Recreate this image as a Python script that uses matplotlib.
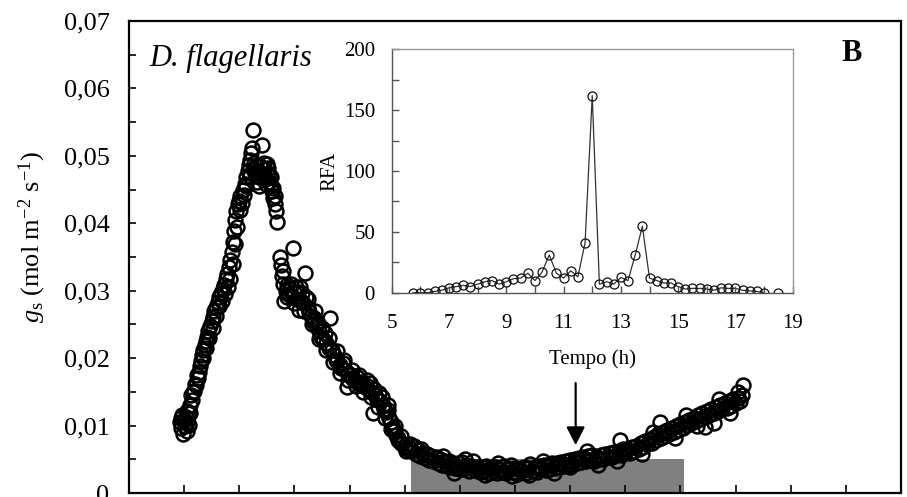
import numpy as np
import matplotlib
matplotlib.use("Agg")
import matplotlib.pyplot as plt
from matplotlib.ticker import MultipleLocator, FixedLocator, FuncFormatter

plt.rcParams['font.family'] = ['Liberation Serif', 'DejaVu Serif']
plt.rcParams['mathtext.fontset'] = 'custom'
plt.rcParams['mathtext.rm'] = 'Liberation Serif'
plt.rcParams['mathtext.it'] = 'Liberation Serif:italic'

# stomatal conductance, main panel (time in h, gs in mol m-2 s-1)
gs_time = [
    5.92, 5.94, 5.95, 5.97, 5.98, 6.00, 6.01, 6.03, 6.05, 6.06, 6.08, 6.09,
    6.11, 6.13, 6.15, 6.18, 6.20, 6.23, 6.25, 6.28, 6.30, 6.32, 6.34, 6.37,
    6.39, 6.41, 6.44, 6.47, 6.50, 6.52, 6.55, 6.58, 6.61, 6.64, 6.67, 6.70,
    6.73, 6.76, 6.78, 6.81, 6.84, 6.86, 6.88, 6.90, 6.92, 6.94, 6.97, 7.00,
    7.02, 7.05, 7.07, 7.10, 7.12, 7.15, 7.17, 7.19, 7.21, 7.23, 7.24,
    7.26, 7.28, 7.30, 7.32, 7.34, 7.36, 7.38, 7.41, 7.43, 7.45, 7.47, 7.50,
    7.52, 7.54, 7.56, 7.58, 7.60, 7.62, 7.64, 7.66, 7.68,
    7.74, 7.76, 7.78, 7.80, 7.82, 7.84, 7.87, 7.89, 7.92, 7.95, 7.97, 8.00,
    8.03, 8.05, 8.08, 8.10, 8.13, 8.16, 8.19, 8.21, 8.24, 8.27, 8.30, 8.33,
    8.36, 8.39, 8.42, 8.45, 8.48, 8.52, 8.55, 8.58, 8.62, 8.65, 8.68, 8.72,
    8.75, 8.78, 8.82, 8.85, 8.88, 8.92, 8.95, 8.98, 9.02, 9.05, 9.09, 9.13,
    9.17, 9.21, 9.25, 9.29, 9.33, 9.37, 9.40, 9.43, 9.46, 9.50, 9.53, 9.56,
    9.60, 9.63, 9.66, 9.69, 9.72, 9.75, 9.78, 9.81, 9.84, 9.88, 9.92, 9.96,
    10.00, 10.04, 10.08,
    10.12, 10.16, 10.20, 10.24, 10.28, 10.32, 10.36, 10.40, 10.44, 10.48,
    10.52, 10.56, 10.60, 10.64, 10.68, 10.72, 10.76, 10.80, 10.84, 10.88,
    10.92, 10.96, 11.00, 11.04, 11.08, 11.12, 11.16, 11.20, 11.24, 11.28,
    11.32, 11.36, 11.40, 11.44, 11.48, 11.52, 11.56, 11.60, 11.64, 11.68,
    11.72, 11.76, 11.80, 11.84, 11.88, 11.92, 11.96, 12.00, 12.04, 12.08,
    12.12, 12.16, 12.20, 12.24, 12.28, 12.32, 12.36, 12.40, 12.44, 12.48,
    12.52, 12.56, 12.60, 12.64, 12.68, 12.72, 12.76, 12.80, 12.84, 12.88,
    12.92, 12.96, 13.00,
    13.04, 13.08, 13.12, 13.16, 13.20, 13.24, 13.28, 13.32, 13.36, 13.40,
    13.44, 13.48, 13.52, 13.56, 13.60, 13.64, 13.68, 13.72, 13.76, 13.80,
    13.84, 13.88, 13.90, 13.92, 13.96, 14.00, 14.04, 14.08, 14.12, 14.16,
    14.20, 14.24, 14.28, 14.32, 14.36, 14.40, 14.44, 14.48, 14.52, 14.56,
    14.60, 14.63, 14.64, 14.68, 14.72, 14.76, 14.80, 14.84, 14.88, 14.92,
    14.96, 15.00, 15.04, 15.08, 15.12, 15.16, 15.20, 15.24, 15.28, 15.32,
    15.36, 15.40, 15.44, 15.45, 15.48, 15.52, 15.56, 15.60, 15.60, 15.64,
    15.68, 15.72, 15.76, 15.80, 15.84, 15.88, 15.92, 15.96, 16.00, 16.04,
    16.08, 16.12, 16.14,
    # second pass of readings, spread of the band
    6.05, 6.10, 6.16, 6.22, 6.27, 6.35, 6.40, 6.46, 6.52, 6.58, 6.63, 6.69,
    6.74, 6.79, 6.83, 6.88, 6.93, 6.96, 7.02, 7.08, 7.13, 7.20, 7.25, 7.30,
    7.35, 7.40, 7.44, 7.48, 7.53, 7.57, 7.62, 7.65,
    7.80, 7.86, 7.93, 7.99, 8.06, 8.12, 8.18, 8.25, 8.31, 8.38, 8.44, 8.50,
    8.57, 8.63, 8.70, 8.77, 8.83, 8.90, 8.97, 9.04, 9.11, 9.18, 9.24, 9.31,
    9.38, 9.45, 9.52, 9.58, 9.65, 9.70, 9.76, 9.82, 9.87, 9.94, 10.02, 10.10,
    10.30, 10.70, 10.90, 11.10, 11.45, 11.70, 11.95, 12.25, 12.50, 12.70,
    13.00, 13.30, 13.50, 13.85, 14.30, 14.50, 14.90, 15.10, 15.30, 15.70,
    15.90, 16.05,
]
gs_value = [
    0.0105, 0.0112, 0.0096, 0.0115, 0.0088, 0.0108, 0.0100, 0.0113, 0.0092, 0.0106, 0.0118, 0.0101,
    0.0130, 0.0145, 0.0138, 0.0152, 0.0162, 0.0175, 0.0170, 0.0188, 0.0196, 0.0204, 0.0212, 0.0220,
    0.0226, 0.0232, 0.0240, 0.0247, 0.0255, 0.0261, 0.0270, 0.0276, 0.0284, 0.0290, 0.0297, 0.0302,
    0.0308, 0.0318, 0.0325, 0.0335, 0.0345, 0.0358, 0.0372, 0.0388, 0.0405, 0.0418, 0.0428, 0.0433,
    0.0440, 0.0430, 0.0450, 0.0458, 0.0468, 0.0478, 0.0486, 0.0494, 0.0505, 0.0512, 0.0538,
    0.0490, 0.0475, 0.0470, 0.0462, 0.0478, 0.0468, 0.0485, 0.0516, 0.0472, 0.0480, 0.0465, 0.0488,
    0.0475, 0.0462, 0.0470, 0.0455, 0.0448, 0.0438, 0.0428, 0.0418, 0.0402,
    0.0350, 0.0338, 0.0322, 0.0310, 0.0285, 0.0300, 0.0308, 0.0295, 0.0302, 0.0290, 0.0364, 0.0298,
    0.0305, 0.0288, 0.0272, 0.0305, 0.0296, 0.0282, 0.0326, 0.0290, 0.0275, 0.0268, 0.0262, 0.0255,
    0.0260, 0.0248, 0.0252, 0.0240, 0.0232, 0.0228, 0.0238, 0.0222, 0.0215, 0.0259, 0.0212, 0.0205,
    0.0198, 0.0196, 0.0190, 0.0186, 0.0193, 0.0182, 0.0157, 0.0178, 0.0175, 0.0170, 0.0166, 0.0172,
    0.0162, 0.0165, 0.0158, 0.0160, 0.0155, 0.0163, 0.0150, 0.0118, 0.0145, 0.0140, 0.0148, 0.0136,
    0.0130, 0.0125, 0.0120, 0.0123, 0.0112, 0.0105, 0.0097, 0.0092, 0.0086, 0.0082, 0.0076, 0.0072,
    0.0070, 0.0066, 0.0068,
    0.0062, 0.0070, 0.0058, 0.0064, 0.0055, 0.0060, 0.0052, 0.0058, 0.0049, 0.0055,
    0.0047, 0.0053, 0.0045, 0.0050, 0.0042, 0.0048, 0.0040, 0.0047, 0.0039, 0.0045,
    0.0037, 0.0044, 0.0036, 0.0046, 0.0035, 0.0042, 0.0033, 0.0040, 0.0048, 0.0034,
    0.0039, 0.0031, 0.0038, 0.0033, 0.0040, 0.0030, 0.0037, 0.0032, 0.0039, 0.0029,
    0.0036, 0.0031, 0.0040, 0.0030, 0.0035, 0.0042, 0.0031, 0.0037, 0.0028, 0.0036,
    0.0032, 0.0039, 0.0030, 0.0037, 0.0043, 0.0033, 0.0039, 0.0031, 0.0040, 0.0035,
    0.0042, 0.0034, 0.0041, 0.0036, 0.0044, 0.0037, 0.0045, 0.0039, 0.0046, 0.0040,
    0.0047, 0.0042, 0.0049,
    0.0043, 0.0050, 0.0045, 0.0052, 0.0046, 0.0054, 0.0047, 0.0055, 0.0049, 0.0056,
    0.0048, 0.0054, 0.0050, 0.0057, 0.0051, 0.0058, 0.0053, 0.0060, 0.0054, 0.0061,
    0.0056, 0.0063, 0.0078, 0.0057, 0.0065, 0.0059, 0.0066, 0.0060, 0.0068, 0.0062,
    0.0070, 0.0065, 0.0074, 0.0068, 0.0077, 0.0072, 0.0080, 0.0074, 0.0083, 0.0078,
    0.0087, 0.0105, 0.0081, 0.0090, 0.0085, 0.0094, 0.0087, 0.0096, 0.0091, 0.0099,
    0.0094, 0.0103, 0.0097, 0.0106, 0.0101, 0.0109, 0.0104, 0.0112, 0.0107, 0.0116,
    0.0110, 0.0119, 0.0113, 0.0098, 0.0121, 0.0116, 0.0124, 0.0118, 0.0104, 0.0127,
    0.0121, 0.0130, 0.0124, 0.0133, 0.0126, 0.0136, 0.0129, 0.0139, 0.0133, 0.0141,
    0.0137, 0.0145, 0.0160,
    0.0122, 0.0118, 0.0150, 0.0160, 0.0180, 0.0200, 0.0215, 0.0230, 0.0245, 0.0262, 0.0278, 0.0285,
    0.0295, 0.0305, 0.0318, 0.0340, 0.0370, 0.0395, 0.0420, 0.0442, 0.0455, 0.0470, 0.0480, 0.0485,
    0.0455, 0.0475, 0.0490, 0.0458, 0.0482, 0.0468, 0.0452, 0.0440,
    0.0330, 0.0290, 0.0310, 0.0282, 0.0298, 0.0285, 0.0270, 0.0288, 0.0250, 0.0270, 0.0228, 0.0245,
    0.0212, 0.0230, 0.0195, 0.0210, 0.0178, 0.0198, 0.0168, 0.0182, 0.0158, 0.0175, 0.0150, 0.0168,
    0.0142, 0.0155, 0.0128, 0.0142, 0.0112, 0.0130, 0.0095, 0.0100, 0.0078, 0.0085, 0.0062, 0.0072,
    0.0066, 0.0055, 0.0030, 0.0050, 0.0026, 0.0045, 0.0025, 0.0026, 0.0048, 0.0030,
    0.0038, 0.0062, 0.0042, 0.0048, 0.0058, 0.0090, 0.0082, 0.0115, 0.0100, 0.0140,
    0.0118, 0.0150,
]

# RFA, inset
rfa_time = [
    5.75, 6.00, 6.25, 6.50, 6.75, 7.00, 7.25, 7.50, 7.75, 8.00,
    8.25, 8.50, 8.75, 9.00, 9.25, 9.50, 9.75, 10.00, 10.25, 10.50,
    10.75, 11.00, 11.25, 11.50, 11.75, 12.00, 12.25, 12.50, 12.75, 13.00,
    13.25, 13.50, 13.75, 14.00, 14.25, 14.50, 14.75, 15.00, 15.25, 15.50,
    15.75, 16.00, 16.25, 16.50, 16.75, 17.00, 17.25, 17.50, 17.75, 18.00,
    18.50,
]
rfa_value = [
    0, 0, 0, 1, 2, 4, 5, 6, 5, 7,
    9, 10, 7, 9, 11.5, 12, 16, 10, 17, 31,
    16, 12, 18, 13, 41, 162, 7, 9, 7, 12.5,
    10, 31, 54.5, 12, 10, 8, 8, 5, 3, 3.5,
    3.5, 3, 2, 4, 3.5, 3.5, 2, 1.5, 1, 0,
    0,
]
rfa_ticks = [5, 7, 9, 11, 13, 15, 17, 19]

# dark period bar and arrow
dark_start = 10.11
dark_end = 15.07
dark_height = 0.005
arrow_time = 13.1
arrow_from = 0.0163
arrow_to = 0.0071

fig = plt.figure(figsize=(9.07, 4.97), dpi=100)
ax = fig.add_axes([0.1422, 0.008, 0.8512, 0.9497])

ax.bar(dark_start, dark_height, width=dark_end - dark_start, align='edge',
       color='#808080', zorder=1)
ax.plot(gs_time, gs_value, linestyle='none', marker='o', markersize=10,
        markerfacecolor='none', markeredgecolor='black', markeredgewidth=1.8,
        zorder=2)
ax.annotate('', xy=(arrow_time, arrow_to), xytext=(arrow_time, arrow_from),
            arrowprops=dict(arrowstyle='-|>,head_length=0.55,head_width=0.28',
                            mutation_scale=20, lw=1.6, color='black',
                            shrinkA=0, shrinkB=0))

ax.set_xlim(5, 19)
ax.set_ylim(0, 0.07)
ax.xaxis.set_major_locator(MultipleLocator(1))
ax.xaxis.set_major_formatter(plt.NullFormatter())
ax.yaxis.set_major_locator(MultipleLocator(0.01))
ax.yaxis.set_minor_locator(MultipleLocator(0.005))
ax.yaxis.set_major_formatter(FuncFormatter(
    lambda v, p: '0' if abs(v) < 1e-9 else ('%.2f' % v).replace('.', ',')))
ax.tick_params(axis='x', direction='in', length=6, width=1.2)
ax.tick_params(axis='y', which='both', direction='in', length=5, width=1.2,
               labelsize=19, pad=14)
for side in ['left', 'right', 'top', 'bottom']:
    ax.spines[side].set_linewidth(1.6)

fig.text(0.036, 0.523, r'$g_{\mathrm{s}}$ (mol m$^{-2}$ s$^{-1}$)', rotation=90,
         ha='center', va='center', fontsize=19)
ax.text(0.027, 0.905, 'D. flagellaris', transform=ax.transAxes, fontsize=22,
        style='italic', ha='left', va='baseline')
ax.text(0.923, 0.915, 'B', transform=ax.transAxes, fontsize=22,
        fontweight='bold', ha='left', va='baseline')

# inset
inset_color = '#999999'
axi = fig.add_axes([0.4319, 0.4111, 0.4421, 0.4897])
axi.plot(rfa_time[:-1], rfa_value[:-1], color='#333333', lw=0.9, zorder=1)
axi.plot(rfa_time, rfa_value, linestyle='none', marker='o', markersize=6.5,
         markerfacecolor='none', markeredgecolor='#111111',
         markeredgewidth=0.9, zorder=2)
axi.set_xlim(5, 19)
axi.set_ylim(0, 200)
axi.xaxis.set_major_locator(FixedLocator(rfa_ticks))
axi.xaxis.set_minor_locator(MultipleLocator(1))
axi.yaxis.set_major_locator(MultipleLocator(50))
axi.yaxis.set_minor_locator(MultipleLocator(25))
axi.tick_params(which='both', direction='in', length=5, width=1,
                color='#555555', labelsize=15)
axi.tick_params(axis='x', pad=15)
axi.tick_params(axis='y', pad=12)
for side in ['left', 'right', 'top', 'bottom']:
    axi.spines[side].set_color(inset_color)
    axi.spines[side].set_linewidth(1.0)
for side in ['left', 'bottom']:
    axi.spines[side].set_color('#555555')
axi.set_xlabel('Tempo (h)', fontsize=15, labelpad=12)
axi.set_ylabel('RFA', fontsize=15, labelpad=3)

fig.savefig('out.png', dpi=100)
